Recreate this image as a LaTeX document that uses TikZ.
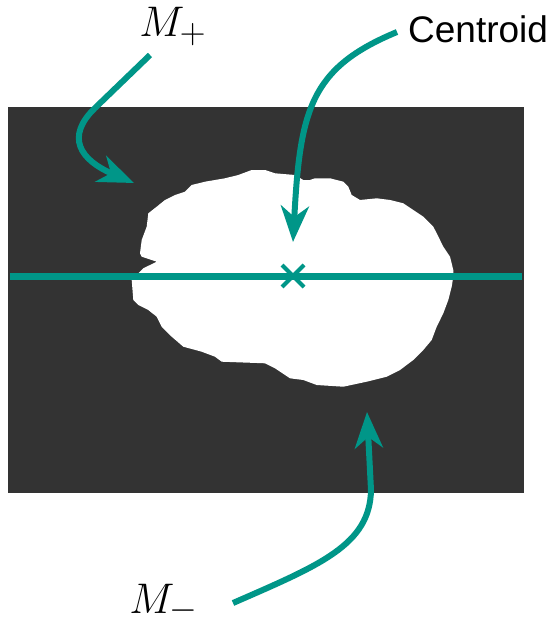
\documentclass[tikz,border=0pt]{standalone}
\usepackage{fontspec}
\newfontfamily\labelfont{Liberation Sans}
\usetikzlibrary{arrows.meta}
\definecolor{teal1}{RGB}{0,150,136}
\definecolor{darkbg}{RGB}{51,51,51}
\tikzset{
  pointer/.style={draw=teal1, line width=6pt, -{Stealth[length=36pt,width=28pt,inset=11pt]}},
  mlabel/.style={anchor=base west, inner sep=0pt, font=\Huge, scale=1.72},
}
\begin{document}
\begin{tikzpicture}[x=1pt,y=-1pt]
\useasboundingbox (0,0) rectangle (550,618);
\fill[white] (0,0) rectangle (550,618);
\fill[darkbg] (8,107) rectangle (524,493);
% blob
\fill[white] (141.7,256.7) -- (140,253.3) -- (141.7,240) -- (146.7,226.7) -- (148.3,213.3) -- (156.7,206.7) -- (165,200) -- (175,195) -- (185,191.7) -- (191.7,185) -- (205,181.7) -- (225,178.3) -- (238.3,175) -- (251.7,170) -- (265,170) -- (275,173.3) -- (295,175) -- (303.3,180) -- (310,180) -- (315,178.3) -- (330,178.3) -- (343.3,181.7) -- (348.3,186.7) -- (351.7,195) -- (360,200) -- (376.7,198.3) -- (390,200) -- (403.3,203.3) -- (413.3,210) -- (423.3,216.7) -- (433.3,226.7) -- (436.7,233.3) -- (443.3,246.7) -- (450,256.7) -- (453.3,270) -- (453.3,276.7) -- (451.7,286.7) -- (448.3,300) -- (443.3,313.3) -- (436.7,326.7) -- (431.7,340) -- (423.3,350) -- (413.3,360) -- (400,370) -- (386.7,376.7) -- (366.7,381.7) -- (343.3,386.7) -- (316.7,385) -- (303.3,380) -- (290,378.3) -- (275,368.3) -- (265,363.3) -- (221.7,361.7) -- (215,356.7) -- (201.7,351.7) -- (183.3,346.7) -- (171.7,336.7) -- (161.7,326.7) -- (156.7,316.7) -- (148.3,310) -- (138.3,305) -- (133.3,300) -- (131.7,280) -- (143.3,268.3) -- (156.7,261.7) -- cycle;
% axis line and centroid
\coordinate (L) at (10,276);
\coordinate (R) at (522,276);
\coordinate (C) at (293,276);
\draw[teal1, line width=7pt] (L) -- (R);
\draw[teal1, line width=4pt] ([shift={(-11,-11)}]C) -- ([shift={(11,11)}]C);
\draw[teal1, line width=4pt] ([shift={(-11,11)}]C) -- ([shift={(11,-11)}]C);
% labels
\node[mlabel] (mp) at (139,37) {$M_+$};
\node[anchor=base west, inner sep=0pt, font=\labelfont\fontsize{37}{43}\selectfont] (cen) at (408,43) {Centroid};
\node[mlabel] (mm) at (129,613) {$M_-$};
% arrow endpoints
\coordinate (s1) at (150,55);
\coordinate (t1) at (134,183);
\coordinate (s2) at (397,32);
\coordinate (t2) at (293,242);
\coordinate (s3) at (233,603);
\coordinate (t3) at (367,412);
\draw[pointer] (s1) -- (95,108) .. controls (65,137) and (80,160) .. (t1);
\draw[pointer] (s2) .. controls (310,68) and (300,110) .. (t2);
\draw[pointer] (s3) .. controls (320,565) and (370,545) .. (371,490) -- (t3);
\end{tikzpicture}
\end{document}
